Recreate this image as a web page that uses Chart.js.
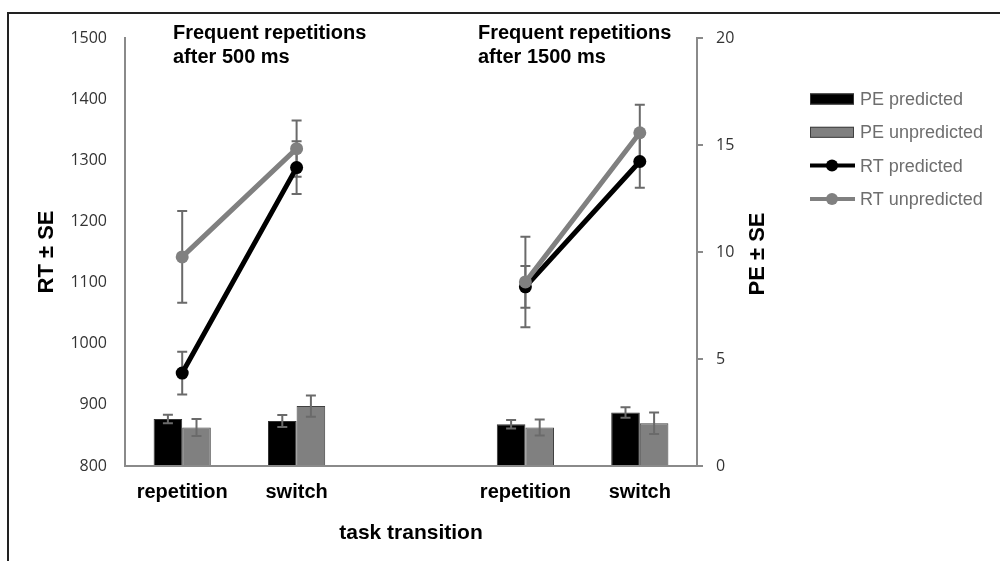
<!DOCTYPE html>
<html>
<head>
<meta charset="utf-8">
<script src="https://cdn.jsdelivr.net/npm/chart.js@4"></script>
<style>
  html, body { margin: 0; padding: 0; background: #fff; }
  #wrap { width: 1000px; height: 561px; position: relative; }
</style>
</head>
<body>
<div id="wrap"><canvas id="myChart" width="1000" height="561"></canvas></div>
<script>
// Data
const categories = ["repetition", "switch", "", "repetition", "switch"];

const rtPredicted = [952, 1288, null, 1093, 1298];
const rtPredictedSE = [35, 43, null, 34, 43];
const rtUnpredicted = [1142, 1319, null, 1101, 1345];
const rtUnpredictedSE = [75, 46, null, 74, 46];

const pePredicted = [2.2, 2.1, null, 1.95, 2.5];
const pePredictedSE = [0.2, 0.28, null, 0.2, 0.25];
const peUnpredicted = [1.8, 2.8, null, 1.8, 2.0];
const peUnpredictedSE = [0.4, 0.5, null, 0.37, 0.5];

const rtTicks = [800, 900, 1000, 1100, 1200, 1300, 1400, 1500];
const peTicks = [0, 5, 10, 15, 20];

const panelNotes = [
  { lines: ["Frequent repetitions", "after 500 ms"], x: 173 },
  { lines: ["Frequent repetitions", "after 1500 ms"], x: 478 }
];

const AXIS_GRAY = "#8a8a8a";
const ERR_GRAY = "#6a6a6a";
const TICK_FONT = { family: "'Open Sans', sans-serif", size: 16 };

// error bars: line ones go under the points, bar ones over the bars
function drawErrors(chart, meta, errs, axisId) {
  const ctx = chart.ctx;
  const scale = chart.scales[axisId];
  const vals = chart.data.datasets[meta.index].data;
  ctx.save();
  ctx.strokeStyle = ERR_GRAY;
  ctx.lineWidth = 2;
  meta.data.forEach((el, i) => {
    if (vals[i] == null) return;
    const x = el.x;
    const yTop = scale.getPixelForValue(vals[i] + errs[i]);
    const yBot = scale.getPixelForValue(vals[i] - errs[i]);
    ctx.beginPath();
    ctx.moveTo(x, yTop); ctx.lineTo(x, yBot);
    ctx.moveTo(x - 5, yTop); ctx.lineTo(x + 5, yTop);
    ctx.moveTo(x - 5, yBot); ctx.lineTo(x + 5, yBot);
    ctx.stroke();
  });
  ctx.restore();
}

const errorBarPlugin = {
  id: "errorBars",
  beforeDatasetsDraw(chart) {
    chart.data.datasets.forEach((ds, i) => {
      if (ds.type === "line") drawErrors(chart, chart.getDatasetMeta(i), ds.errors, "y");
    });
  },
  afterDatasetsDraw(chart) {
    chart.data.datasets.forEach((ds, i) => {
      if (ds.type === "bar") drawErrors(chart, chart.getDatasetMeta(i), ds.errors, "y2");
    });
  }
};

const decorPlugin = {
  id: "decor",
  beforeDraw(chart) {
    const ctx = chart.ctx;
    ctx.save();
    ctx.fillStyle = "#fff";
    ctx.fillRect(0, 0, chart.width, chart.height);
    // outer frame
    ctx.strokeStyle = "#222";
    ctx.lineWidth = 2;
    ctx.beginPath();
    ctx.moveTo(8, 561); ctx.lineTo(8, 13); ctx.lineTo(1000, 13);
    ctx.stroke();
    ctx.restore();
  },
  afterDraw(chart) {
    const ctx = chart.ctx;
    ctx.save();
    // panel notes
    ctx.fillStyle = "#000";
    ctx.font = "bold 20px 'Liberation Sans', Arial, sans-serif";
    ctx.textAlign = "left";
    ctx.textBaseline = "middle";
    panelNotes.forEach(n => {
      n.lines.forEach((t, k) => ctx.fillText(t, n.x, 33 + k * 24));
    });

    // right axis title, reading upward
    ctx.save();
    ctx.translate(758, 254);
    ctx.rotate(-Math.PI / 2);
    ctx.textAlign = "center";
    ctx.font = "bold 22px 'Liberation Sans', Arial, sans-serif";
    ctx.fillText("PE \u00B1 SE", 0, 0);
    ctx.restore();

    // legend
    const items = [2, 3, 0, 1];
    ctx.font = "18px 'Liberation Sans', Arial, sans-serif";
    items.forEach((di, k) => {
      const ds = chart.data.datasets[di];
      const y = 99 + k * 33.3;
      if (ds.type === "bar") {
        ctx.fillStyle = ds.backgroundColor;
        ctx.strokeStyle = ds.borderColor;
        ctx.lineWidth = 1;
        ctx.fillRect(810, y - 5.5, 44, 11);
        ctx.strokeRect(810.5, y - 5, 43, 10);
      } else {
        ctx.strokeStyle = ds.borderColor;
        ctx.lineWidth = 4;
        ctx.beginPath();
        ctx.moveTo(810, y); ctx.lineTo(855, y);
        ctx.stroke();
        ctx.fillStyle = ds.borderColor;
        ctx.beginPath();
        ctx.arc(832, y, 6, 0, Math.PI * 2);
        ctx.fill();
      }
      ctx.fillStyle = "#6e6e6e";
      ctx.textAlign = "left";
      ctx.fillText(ds.label, 860, y + 1);
    });
    ctx.restore();
  }
};

const ctx = document.getElementById("myChart");
const myChart = new Chart(ctx, {
  data: {
    labels: categories,
    datasets: [
      {
        type: "line",
        label: "RT predicted",
        data: rtPredicted,
        errors: rtPredictedSE,
        yAxisID: "y",
        borderColor: "#000",
        backgroundColor: "#000",
        borderWidth: 5,
        pointRadius: 6.5,
        pointBorderWidth: 0,
        spanGaps: false,
        order: 2
      },
      {
        type: "line",
        label: "RT unpredicted",
        data: rtUnpredicted,
        errors: rtUnpredictedSE,
        yAxisID: "y",
        borderColor: "#808080",
        backgroundColor: "#808080",
        borderWidth: 5,
        pointRadius: 6.5,
        pointBorderWidth: 0,
        spanGaps: false,
        order: 1
      },
      {
        type: "bar",
        label: "PE predicted",
        data: pePredicted,
        errors: pePredictedSE,
        yAxisID: "y2",
        backgroundColor: "#000",
        borderColor: "#333",
        borderWidth: 1,
        categoryPercentage: 0.5,
        barPercentage: 1.0,
        order: 3
      },
      {
        type: "bar",
        label: "PE unpredicted",
        data: peUnpredicted,
        errors: peUnpredictedSE,
        yAxisID: "y2",
        backgroundColor: "#808080",
        borderColor: "#404040",
        borderWidth: 1,
        categoryPercentage: 0.5,
        barPercentage: 1.0,
        order: 4
      }
    ]
  },
  options: {
    responsive: false,
    animation: false,
    layout: { padding: { top: 38, left: 0, right: 0, bottom: 0 } },
    plugins: {
      legend: { display: false },
      tooltip: { enabled: false }
    },
    scales: {
      x: {
        grid: { display: false, drawTicks: false },
        border: { display: true, color: AXIS_GRAY, width: 2 },
        ticks: {
          color: "#000",
          padding: 14,
          maxRotation: 0,
          minRotation: 0,
          font: { family: "'Liberation Sans', Arial, sans-serif", size: 20, weight: "bold" }
        },
        title: {
          display: true,
          text: "task transition",
          color: "#000",
          padding: { top: 0, bottom: 15 },
          font: { family: "'Liberation Sans', Arial, sans-serif", size: 21, weight: "bold" }
        },
        afterFit: (scale) => { scale.height = 95; }
      },
      y: {
        position: "left",
        min: rtTicks[0],
        max: rtTicks[rtTicks.length - 1],
        afterBuildTicks: (scale) => { scale.ticks = rtTicks.map(v => ({ value: v })); },
        grid: { drawOnChartArea: false, drawTicks: false },
        border: { display: true, color: AXIS_GRAY, width: 2 },
        ticks: { color: "#333", padding: 18, font: TICK_FONT, callback: (v) => String(v) },
        title: {
          display: true,
          text: "RT \u00B1 SE",
          color: "#000",
          padding: { top: 34, bottom: 0 },
          font: { family: "'Liberation Sans', Arial, sans-serif", size: 22, weight: "bold" }
        },
        afterFit: (scale) => { scale.width = 125; }
      },
      y2: {
        position: "right",
        min: peTicks[0],
        max: peTicks[peTicks.length - 1],
        afterBuildTicks: (scale) => { scale.ticks = peTicks.map(v => ({ value: v })); },
        grid: { drawOnChartArea: false, drawTicks: true, tickLength: 6, color: AXIS_GRAY, lineWidth: 2 },
        border: { display: true, color: AXIS_GRAY, width: 2 },
        ticks: { color: "#333", padding: 13, font: TICK_FONT, callback: (v) => String(v) },
        afterFit: (scale) => { scale.width = 303; }
      }
    }
  },
  plugins: [decorPlugin, errorBarPlugin]
});
</script>
</body>
</html>
